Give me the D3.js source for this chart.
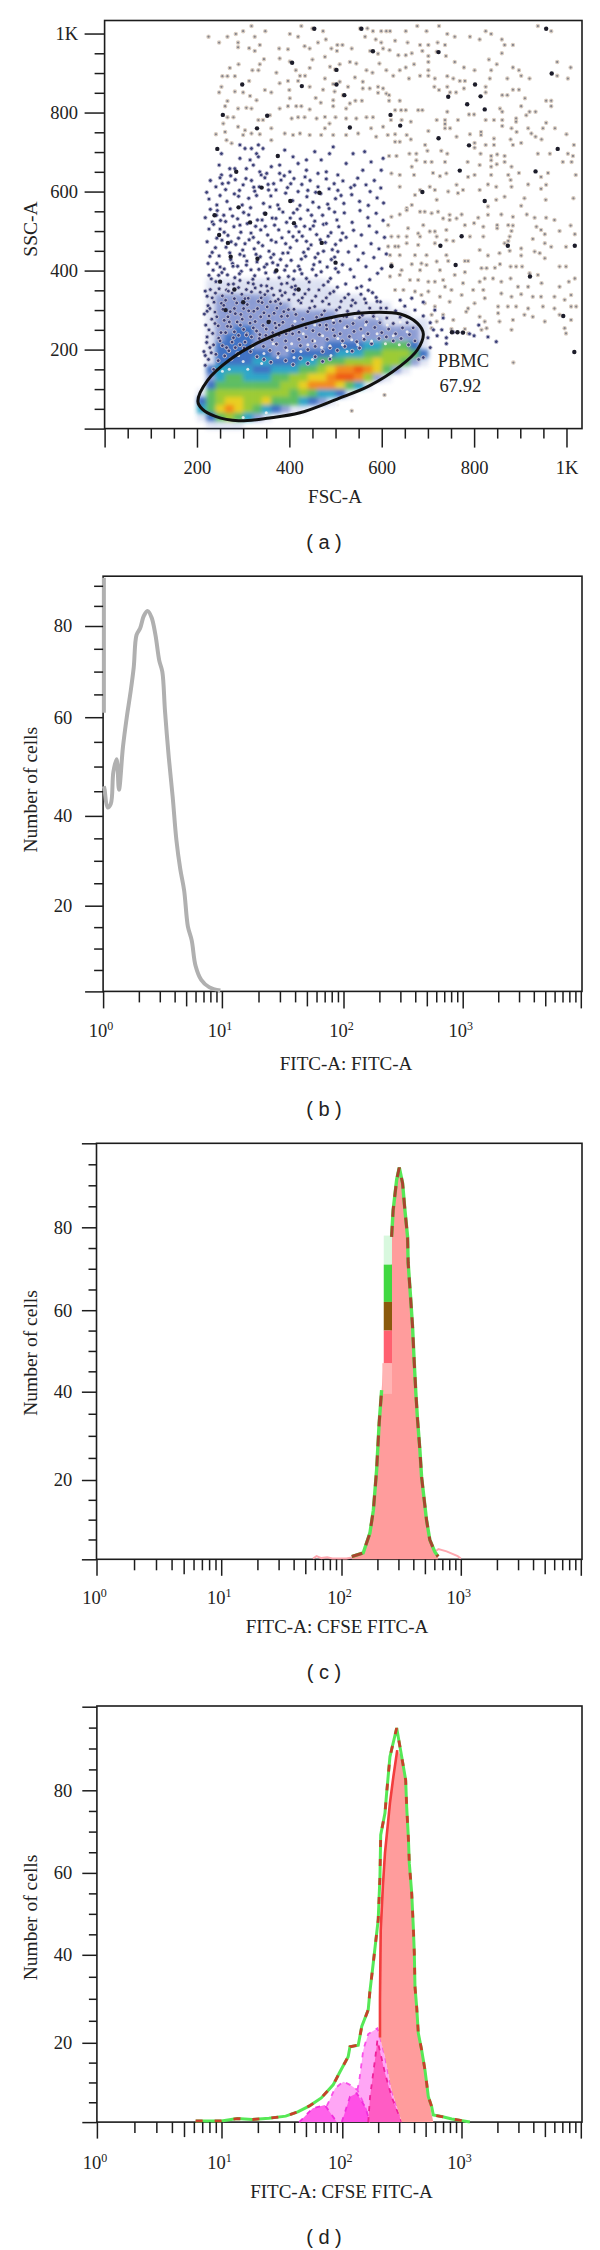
<!DOCTYPE html>
<html>
<head>
<meta charset="utf-8">
<script src="https://cdn.jsdelivr.net/npm/d3@7"></script>
<style>
  html, body { margin: 0; background: #fff; }
  svg { display: block; }
  text { font-family: "Liberation Serif", serif; fill: #222; }
  .caption { font-family: "Liberation Sans", sans-serif; }
</style>
</head>
<body>
<svg id="chart" width="600" height="2250"></svg>
<script>
// ---- panel a: FSC-A / SSC-A dots as [fsc, ssc]
const lightDots = [[225,992],[248,977],[266,992],[284,999],[300,1006],[318,1019],[325,992],[348,1006],[289,977],[289,965],[313,963],[325,956],[336,971],[378,962],[397,960],[379,937],[401,999],[419,992],[426,1019],[450,1013],[473,1006],[462,977],[479,985],[433,968],[444,962],[401,929],[345,935],[336,922],[290,922],[271,913],[320,907],[333,907],[372,901],[414,907],[423,893],[434,893],[444,913],[450,934],[477,941],[491,962],[504,971],[515,971],[503,956],[535,962],[553,1013],[569,1013],[564,992],[581,1006],[599,1006],[610,1006],[587,985],[599,977],[603,962],[575,956],[592,949],[617,958],[531,928],[545,924],[509,922],[488,916],[499,909],[477,886],[495,872],[509,878],[542,889],[567,907],[580,901],[595,924],[610,907],
[255,892],[266,892],[282,892],[313,880],[253,865],[248,851],[282,853],[300,851],[347,857],[361,851],[315,842],[329,831],[379,874],[397,880],[400,857],[401,836],[419,880],[444,865],[473,858],[498,853],[457,837],[468,825],[495,831],[495,816],[516,844],[527,865],[559,878],[559,861],[574,861],[592,865],[603,861],[592,850],[610,848],[543,830],[557,830],[531,823],[523,810],[261,816],[266,829],[289,810],[307,812],[318,810],[358,793],[379,810],[397,816],[415,816],[426,816],[444,808],
[266,788],[279,788],[257,772],[289,764],[304,755],[333,781],[343,781],[361,760],[405,785],[419,788],[433,788],[459,785],[477,789],[487,772],[500,788],[523,785],[545,785],[567,788],[581,788],[577,760],[603,764],[241,745],[261,751],[264,730],[275,722],[300,743],[318,747],[336,745],[361,730],[390,747],[408,743],[423,747],[444,743],[469,743],[477,760],[495,743],[523,743],[549,747],[588,739],[613,743],
[618,1006],[652,1006],[677,1019],[697,1006],[724,1019],[629,982],[656,977],[683,971],[701,971],[721,977],[737,971],[742,999],[758,992],[791,992],[825,1006],[837,999],[812,985],[860,985],[884,971],[866,971],[938,1019],[967,1006],[636,945],[652,945],[665,950],[688,956],[701,943],[739,943],[719,954],[832,934],[860,950],[849,922],[701,928],[670,922],[758,928],[778,914],[801,907],[837,907],[884,914],[897,907],[980,928],[1009,914],[980,893],[1003,886],[902,893],[920,886],[872,886],[834,886],[639,907],[652,914],[701,907],[701,893],[683,893],[659,886],[625,893],[715,886],[742,892],[755,886],[769,880],[780,880],[778,861],[825,865],[825,851],[742,865],[714,865],[724,857],[748,851],[761,851],[884,858],[897,858],[861,844],[872,844],[910,836],[956,830],[967,830],[967,816],[902,816],[920,802],[933,802],[856,810],[861,802],[800,795],[789,795],[742,802],[688,806],[679,806],[639,830],[616,844],[616,830],[652,806],[642,806],[629,806],[620,781],[643,781],[663,777],[719,781],[737,781],[737,771],[765,781],[825,781],[843,781],[861,781],[861,766],[891,785],[891,777],[913,793],[956,774],[949,760],[975,760],[1000,745],[881,760],[892,751],[917,760],[924,747],[933,739],[946,732],[737,760],[748,760],[815,751],[815,743],[791,745],[762,739],[701,753],[629,745],[654,743],[629,726],[639,726],[663,732],[1016,718],[1003,696],[1014,690],[992,675],[1011,675],[964,696],[938,696],[902,723],[879,732],[884,718],[843,734],[843,718],[825,718],[801,723],[801,711],[694,718],[699,703],[729,703],[742,696],[814,696],[837,690],[837,679],[850,694],[866,690],[866,675],[849,669],[881,663],[616,690],[632,690],[660,696],[675,696],[675,679],[665,663],[694,675],[708,675],[737,675],[786,675],[812,667],[837,663],[837,642],[874,642],[897,647],[945,637],[960,647],[1020,642],[639,642],[621,646],[670,642],[711,647],[726,639],[740,646],[787,637],[801,642],
[639,612],[683,604],[672,591],[665,566],[654,558],[704,612],[715,604],[719,579],[744,600],[762,617],[776,604],[765,596],[812,604],[830,618],[848,612],[881,612],[879,629],[917,618],[945,607],[956,617],[955,579],[909,583],[902,564],[866,587],[848,579],[830,562],[1015,583],[621,536],[639,542],[654,553],[683,549],[693,549],[708,545],[722,549],[733,532],[747,541],[762,532],[773,542],[747,528],[809,534],[830,541],[859,542],[884,536],[914,542],[931,534],[956,534],[974,528],[780,515],[800,520],[820,511],[850,515],[850,507],[874,515],[884,514],[935,511],[945,503],[985,500],[1009,514],[1018,492],[953,492],[881,500],[614,515],[657,507],[679,494],[683,486],[704,499],[715,499],[740,503],[690,515],[621,486],[636,486],[654,486],[719,486],[791,486],[820,486],[877,486],[874,475],[927,480],[953,469],[967,460],[999,460],[614,461],[629,461],[654,469],[679,465],[715,469],[740,477],[755,475],[866,469],[902,456],[931,448],[942,444],[618,439],[636,461],[639,439],[672,439],[697,439],[740,439],[780,424],[787,424],[812,452],[830,438],[855,444],[877,450],[902,438],[953,431],[665,416],[686,418],[719,423],[744,424],[845,407],[856,416],[879,410],[891,410],[904,410],[985,410],[999,410],[621,416],[643,401],[639,389],[683,401],[697,414],[726,401],[758,389],[780,396],[816,406],[827,406],[823,380],[841,380],[920,393],[938,389],[618,385],[661,376],[679,376],[701,372],[715,372],[733,376],[737,359],[776,368],[812,372],[859,372],[879,380],[895,359],[917,359],[946,368],[985,359],[1005,372],[1018,380],[629,351],[647,351],[672,347],[686,338],[701,347],[726,334],[751,351],[773,338],[798,351],[820,351],[859,342],[881,334],[902,340],[927,334],[945,334],[974,334],[996,326],[1010,338],[693,317],[715,309],[747,321],[787,304],[801,317],[823,330],[852,309],[873,309],[891,309],[917,304],[949,309],[974,304],[1010,309],[1021,309],[708,288],[733,288],[783,296],[812,283],[852,292],[884,275],[909,288],[927,283],[953,271],[985,288],[1010,275],[719,271],[755,275],[823,271],[855,271],[708,254],[751,252],[780,252],[816,250],[827,254],[881,250],[996,254],[999,241],[787,241],[885,167],[606,85],[535,45]];

const blueDots = [[293,718],[304,709],[318,709],[333,718],[343,709],[329,696],[333,688],[293,684],[315,680],[271,658],[282,658],[248,667],[253,642],[307,658],[322,667],[336,650],[361,663],[379,667],[390,705],[408,688],[419,671],[437,680],[455,701],[469,680],[495,713],[487,696],[523,671],[505,642],[538,696],[563,701],[577,675],[603,684],[559,654],[599,654],[401,650],[437,654],[462,646],[480,650],[351,646],[379,646],[253,696],
[250,635],[268,622],[283,630],[300,617],[318,628],[335,612],[347,635],[366,620],[382,629],[396,610],[410,633],[427,618],[445,628],[462,612],[480,632],[497,620],[516,627],[533,610],[548,634],[566,617],[584,628],[598,609],[262,605],[292,603],[325,601],[355,604],[440,603],[505,603],[575,600],
[221,598],[226,581],[250,590],[265,575],[281,594],[298,566],[312,583],[329,590],[344,570],[360,589],[375,566],[392,596],[407,577],[423,565],[438,587],[451,573],[468,595],[483,568],[500,582],[518,570],[535,592],[552,575],[571,565],[590,584],[604,571],[243,566],
[218,534],[244,552],[258,540],[272,556],[288,531],[301,547],[316,559],[331,528],[346,545],[363,533],[378,556],[394,522],[409,546],[424,531],[440,553],[455,525],[472,540],[486,557],[503,528],[519,546],[536,522],[553,552],[570,534],[588,545],[603,527],[233,523],[262,524],
[236,517],[250,505],[267,489],[280,511],[295,497],[309,519],[322,484],[338,503],[353,490],[368,515],[384,483],[399,498],[414,512],[428,487],[445,505],[459,491],[474,517],[490,496],[507,511],[523,484],[539,502],[556,490],[573,513],[589,497],[606,484],
[222,473],[240,458],[254,477],[271,445],[284,466],[299,452],[313,478],[328,441],[342,463],[356,449],[371,472],[386,444],[402,458],[416,476],[431,446],[447,465],[462,443],[478,471],[493,453],[511,477],[528,447],[544,462],[560,444],[577,468],[594,455],[610,442],
[228,436],[243,418],[259,404],[273,428],[288,411],[302,437],[317,402],[330,422],[346,409],[360,433],[375,414],[390,401],[404,426],[420,411],[435,436],[450,403],[466,422],[482,409],[498,434],[515,415],[532,403],[549,427],[566,410],[583,433],[600,405],
[226,388],[241,372],[254,395],[268,365],[282,382],[296,398],[311,369],[325,387],[339,362],[354,379],[369,396],[383,366],[398,385],[413,361],[427,392],[443,371],[458,388],[474,363],[489,380],[506,396],[522,366],[540,384],[556,360],[574,377],[591,393],
[218,348],[233,331],[248,354],[262,325],[276,343],[290,357],[304,329],[318,346],[333,322],[347,339],[362,355],[376,327],[391,344],[405,358],[420,324],[434,341],[449,323],[464,351],[480,331],[496,347],[512,322],[528,340],[546,356],[563,328],[580,344],[597,321],
[224,311],[239,295],[253,317],[267,283],[281,304],[295,289],[309,314],[323,297],[338,283],[352,308],[367,292],[381,316],[396,285],[410,302],[425,318],[440,296],[455,309],[470,288],[486,315],[502,300],[518,284],[534,311],[550,296],[566,318],[582,291],[598,305],
[231,379],[247,388],[264,351],[279,366],[293,375],[307,352],[322,366],[337,345],[351,361],[366,338],[380,349],[395,368],[410,340],
[222,297],[237,320],[256,302],[272,296],[286,318],[301,304],[316,283],[331,304],[345,293],[359,321],[373,305],[388,296],
[219,262],[232,277],[246,260],[259,274],[273,258],[287,270],[301,251],[315,267],[329,247],[343,261],[357,272],[371,255],[386,269],[400,248],
[221,218],[234,241],[247,229],[262,243],[276,219],[290,236],[304,219],[318,232],[215,195],[228,205],[241,188],[255,210],[269,197],[283,205],[218,160],[225,175],[236,150],
[229,628],[241,612],[255,620],[273,640],[290,588],[306,633],[323,611],[339,642],[354,618],[371,604],[389,640],[403,620],[419,600],[434,637],[457,598],[486,607],[512,590],[541,616],
[242,540],[229,555],[251,527],[277,538],[293,515],[312,541],[327,512],[341,528],[358,561],[371,532],[386,548],[402,533],[417,555],[433,512],[448,540],[464,560],[480,519],[498,548],
[226,505],[243,482],[259,497],[274,473],[290,482],[304,468],[317,495],[333,471],[348,512],[361,477],[377,503],[392,468],[408,486],[421,498],[437,474],[452,513],[467,478],[484,487],[500,466],[515,495],
[233,446],[248,437],[263,459],[277,418],[293,441],[308,424],[324,455],[337,435],[351,416],[366,441],[381,428],[397,445],[411,399],[426,429],[441,455],[456,433],[474,449],[491,428],[505,448],
[224,418],[235,401],[250,409],[266,389],[278,411],[292,392],[307,414],[321,378],[334,403],[349,394],[364,420],[378,382],[394,412],[409,378],[423,403],[437,380],[453,415],[469,397],[484,372],[500,405],
[222,335],[229,352],[240,343],[255,336],[268,348],[281,329],[297,340],[311,330],[326,356],[339,331],[353,348],[370,322],[384,337],[399,326],[413,352],[428,331],[442,352],[457,335],[472,322],[488,342],[504,358],[520,331],[537,325],[555,340],[571,350],[588,332],
[216,290],[228,304],[243,283],[258,312],[270,270],[283,291],[298,277],[312,298],[326,271],[341,319],[356,285],[369,267],[383,284],[398,301],[414,289],[429,277],[444,305],[459,282],[476,298],[492,280],[509,307],[526,297],[543,318],[558,287],[574,305],[590,322],
[226,250],[239,266],[252,243],[266,259],[281,245],[294,262],[308,240],[322,255],[336,238],[350,252],[364,243],[378,262],[393,240],[407,260],[421,244],[436,255],[451,248],[466,262],[481,252],[496,268],
[222,232],[236,212],[250,222],[264,205],[279,230],[293,212],[307,237],[321,210],[335,228],[349,236],[363,225],[378,236],[392,222],[407,240],[421,226],[436,232],[451,222],
[218,185],[231,192],[246,172],[260,184],[274,176],[288,190],[302,204],[316,195],[330,182],[344,208],[358,198],[372,214],
[610,305],[630,298],[650,310],[672,300],[690,285],[705,268],[712,250],[640,325],[665,330],[690,320],[715,300],[733,280],
[700,230],[705,205],[690,180],[680,175],[720,235],[730,250],[740,230],[755,244],[775,243],[790,240],[810,262],[800,235],[830,232],[848,220],[740,215],
[510,272],[524,283],[538,266],[552,281],[567,270],[582,284],[596,268],[611,280],[625,266],[640,282],[655,268],[668,255],[480,262],[495,250],[510,240],[525,258],[540,246],[555,252],[570,240],[585,256],[600,243],[615,252],[630,240],[645,255],[660,238],[672,222],[465,238],[482,226],[498,235],[515,222],[530,233],[546,220],[562,226],[578,215],[594,228],[610,232],[625,222],[642,228],[658,212],[392,205],[408,196],[424,210],[440,200],[456,208],[472,195],[488,205],[504,198],[520,208],[536,196],[552,204],[345,175],[360,168],[376,190],[392,172],[408,162],[424,178],[440,165],[456,182],[472,170],[488,176]];

const darkDots = [[454,1012],[556,1012],[956,1012],[723,953],[581,955],[406,926],[502,908],[968,899],[298,871],[502,871],[802,871],[427,867],[519,844],[744,840],[814,841],[823,808],[785,821],[619,794],[256,794],[352,792],[640,767],[531,762],[723,735],[789,717],[981,708],[244,708],[769,653],[933,651],[688,599],[823,576],[465,597],[402,576],[315,522],[348,544],[773,487],[727,463],[873,463],[248,490],[273,435],[621,411],[760,414],[1018,463],[921,385],[993,285],[1017,194],[752,244],[764,244],[776,243],[281,352],[331,430],[267,470],[372,400],[250,372],[300,320],[355,270],[262,300],[420,352],[500,420],[290,560],[340,610],[410,520],[285,650],[375,690],[330,760],[470,470],[238,540]];

// pale specks left inside the upper half of the gate
const speckDots = [[385,245],[412,272],[430,240],[455,262],[472,235],[495,275],[520,255],[542,280],[565,262],[590,278],[612,262],[640,270],[405,215],[440,212],[470,205],[505,228],[535,225],[560,235],[590,240],[625,235],[655,245],[320,205],[345,190],[375,180],[300,170],[270,150],[410,180],[450,175],[490,185],[525,195],[340,165],[365,215],[395,198],[425,195],[455,222],[488,210],[515,212],[548,212],[578,222],[608,215],[638,212],[290,185],[310,150],[255,145],[430,45],[505,60],[350,40],[300,28]];

// density of the crowded part: one row per 20 SSC (highest first), one digit per 20 FSC from 200
const densityRows = [
  "01111111111111000000000000",
  "01111111111111100000000000",
  "01222222111111111100000000",
  "01222222221111111111100000",
  "01222222222222211111111000",
  "01222222222222222222111110",
  "01223322222222222222222210",
  "01233322222222222222222210",
  "01333322222222333344555310",
  "01333333223333344455666530",
  "01333344333445556667665210",
  "03444433444556788987521000",
  "02455444556677899862100000",
  "03555555566788875410000000",
  "15666666665654431000000000",
  "35677667555432100000000000",
  "45787654321100000000000000",
  "13565421000000000000000000",
  "01111000000000000000000000"
];
const densityTop = 360;
const densityColors = [null, "rgba(70,90,180,.16)", "rgba(60,85,180,.55)", "#3f72c4", "#2ea6c8", "#5dbd62", "#9ccb35", "#e8cf22", "#f38a1c", "#ef5a18"];

// gate outline as [fsc, ssc]
const gate = [[202,69],[223,122],[273,176],[340,222],[431,263],[506,285],[573,294],[640,290],[677,267],[690,240],[677,199],[640,158],[573,108],[506,76],[423,40],[357,27],[290,20],[240,31],[211,50]];

// ---- panel b
const bEdge = [[1.015,92],[1.015,61]];
const bCurve = [[1.015,46],[1.03,45.3],[1.09,41.7],[1.16,42.4],[1.22,48.9],[1.3,51.5],[1.36,45.3],[1.47,54],[1.58,59.9],[1.7,65.4],[1.81,70.9],[1.91,78],[2.05,79.5],[2.21,82.6],[2.38,83.7],[2.56,82.1],[2.76,78],[2.97,72.4],[3.15,70],[3.32,61.3],[3.57,51.9],[3.85,43.9],[4.14,34.6],[4.46,28.2],[4.81,23.4],[5.17,15.2],[5.57,11.9],[6,6],[6.7,2.7],[7.8,1],[9.7,.2]];

// ---- panel c
const cLeft = [[122,.7],[152,1.6],[173,6.6],[185,12.4],[197,22.3],[207,33],[217,40.4]];
const cRight = [[263,77.7],[271,84.1],[290,91.3],[305,94.2],[325,90.5],[340,84.1],[358,77.7],[362,71.4],[379,63.3],[394,56],[406,47.8],[420,39.7],[434,33.6],[454,26.8],[469,20.7],[490,15.8],[516,9.9],[550,4.9],[605,1.9],[645,.7]];
const cFillLeft = [[225,47],[255,47]];
const cTailLow = [[58,.2],[62,.8],[68,.3],[76,.5],[84,.2],[110,.2],[125,.5]];
const cTailHigh = [[605,1.9],[650,2.6],[760,2],[942,.8],[1000,.2]];
// bands on the left flank: [fitc from, fitc to, count from, count to]
const cBands = [[226,265,71,78,"#d8f8de"],[226,265,62,71,"#3fd83f"],[226,265,55,62,"#8a5a10"],[226,265,47,55,"#ff6070"],[220,265,39.5,47,"#ffb4b4"]];

// ---- panel d
const dTotal = [[6.2,.3],[10,.3],[13.5,.9],[18,.65],[24.7,1],[34,1.5],[42.8,2.6],[53.6,4.1],[67,6.1],[84,9.4],[95.7,12.7],[112,16.5],[116,19],[136,19.4],[145.6,23.7],[165,27.5],[170,31.4],[182,38.2],[200,48.5],[207,59.1],[210,69.2],[228,74.5],[236,79.6],[251,88],[265,90.9],[286,94.9],[315,88],[340,82.5],[347,75.9],[358,68.8],[365,62.3],[382,55.1],[394,46.9],[402,40.3],[407,32.8],[421,28],[434,22.2],[463,18.2],[494,13.1],[527,6.4],[562,3.9],[580,1.8],[682,1.4],[828,.8],[1175,0]];
const dMain = [[207,21.2],[207,29.7],[210,46],[219,56.8],[228,64.8],[251,76.9],[268,83.2],[289,89.6],[315,88],[340,82.5],[347,75.9],[358,68.8],[365,62.3],[382,55.1],[394,46.9],[402,40.3],[407,32.8],[421,28],[434,22.2],[463,18.2],[494,13.1],[527,6.4],[562,2],[580,0]];
const dMainFoot = [[315,0],[259,8.1],[228,16.5],[207,21.2]];
const dGenSmall = [[44,0],[57,3.5],[71.6,4.3],[90,0]];
const dGenA = [[44,0],[57,3],[74,3.9],[87,8.5],[102,10.2],[116,9.4],[134,8.1],[155,3.9],[171,0]];
const dGenB = [[134,8.1],[139,10.6],[150,18.2],[165,22],[197,23.3],[207,21.4],[228,16.5],[259,8.1],[315,0]];
const dGenC = [[99,0],[116,6.4],[132,7.3],[155,3.9],[171,0]];
const dGenD = [[165,0],[171,6.4],[188,15.7],[197,20.6],[228,12.4],[259,6.4],[315,0]];

// ---- ticks
const linTicks = d3.range(0, 1001, 50);
const linLabels = {200: "200", 400: "400", 600: "600", 800: "800", 1000: "1K"};
const logDecades = [1, 10, 100, 1000];
const logTicks = logDecades.flatMap(d => [1,2,3,4,5,6,7,8,9].map(m => d * m)).concat([10000]);
const countTicks = d3.range(0, 101, 5);
const countLabels = [20, 40, 60, 80];

const svg = d3.select("#chart");

const defs = svg.append("defs");
defs.append("filter").attr("id", "soft").attr("x", "-5%").attr("y", "-5%").attr("width", "110%").attr("height", "110%")
  .append("feGaussianBlur").attr("stdDeviation", 0.7);
defs.append("filter").attr("id", "softer").attr("x", "-5%").attr("y", "-5%").attr("width", "110%").attr("height", "110%")
  .append("feGaussianBlur").attr("stdDeviation", 2.2);

function frame(box, id) {
  defs.append("clipPath").attr("id", id).append("rect")
    .attr("x", box.left).attr("y", box.top).attr("width", box.right - box.left).attr("height", box.bottom - box.top);
  svg.append("rect")
    .attr("x", box.left).attr("y", box.top).attr("width", box.right - box.left).attr("height", box.bottom - box.top)
    .attr("fill", "none").attr("stroke", "#1c1c1c").attr("stroke-width", 1.6);
}

function titles(p) {
  svg.append("text").attr("x", p.xTitle[0]).attr("y", p.xTitle[1] + 6).attr("text-anchor", "middle")
    .attr("font-size", 19).text(p.xName);
  svg.append("text").attr("transform", `translate(${p.yTitle[0] + 6},${p.yTitle[1]}) rotate(-90)`)
    .attr("text-anchor", "middle").attr("font-size", 19.5).text(p.yName);
  svg.append("text").attr("class", "caption").attr("x", 324).attr("y", p.captionY + 7).attr("text-anchor", "middle")
    .attr("font-size", 20).text(p.caption);
}

function styleAxis(g) {
  g.select(".domain").remove();
  g.selectAll("line").attr("stroke", "#1c1c1c").attr("stroke-width", 1.5);
  g.selectAll("text").attr("font-size", 18.5).attr("font-family", "Liberation Serif").attr("fill", "#222");
}

function logAxis(x, box, labelY, major, five, minor) {
  const g = svg.append("g").attr("transform", `translate(0,${box.bottom})`)
    .call(d3.axisBottom(x).tickValues(logTicks).tickSize(minor).tickFormat(""));
  styleAxis(g);
  g.selectAll(".tick line").attr("y2", d => {
    const lead = d / Math.pow(10, Math.floor(Math.log10(d) + 1e-9));
    return Math.abs(lead - 1) < 1e-6 ? major : Math.abs(lead - 5) < 1e-6 ? five : minor;
  });
  logDecades.forEach((d, i) => {
    const t = svg.append("text").attr("x", x(d) - 2).attr("y", labelY + 7).attr("text-anchor", "middle").attr("font-size", 18.5);
    t.append("tspan").text("10");
    t.append("tspan").attr("dy", -7).attr("font-size", 12).text(i);
  });
}

function countAxis(y, box, major, minor, labelX) {
  const g = svg.append("g").attr("transform", `translate(${box.left},0)`)
    .call(d3.axisLeft(y).tickValues(box.countTicks).tickSize(minor).tickPadding(box.left - labelX - minor)
      .tickFormat(d => countLabels.includes(d) ? d : ""));
  styleAxis(g);
  g.selectAll(".tick line").attr("x2", d => (d % 20 === 0 ? -major : -minor));
}

// ---- panel a
(function () {
  const box = {left: 104.6, right: 582, top: 20.5, bottom: 428.6};
  const x = d3.scaleLinear().domain([0, 1033.6]).range([box.left, box.right]);
  const y = d3.scaleLinear().domain([0, 1033]).range([box.bottom, box.top]);
  frame(box, "clipA");

  const dens = svg.append("g").attr("filter", "url(#softer)");
  densityRows.forEach((row, r) => {
    const ssc = densityTop - r * 20;
    dens.selectAll(null).data(row.split("").map((c, i) => ({fsc: 200 + i * 20, level: +c})).filter(d => d.level > 0))
      .enter().append("rect")
      .attr("x", d => x(d.fsc)).attr("width", d => x(d.fsc + 20) - x(d.fsc) + .5)
      .attr("y", y(ssc + 20)).attr("height", y(ssc) - y(ssc + 20) + .5)
      .attr("fill", d => densityColors[d.level]);
  });

  const dots = svg.append("g").attr("clip-path", "url(#clipA)").append("g").attr("filter", "url(#soft)");
  dots.selectAll(".l").data(lightDots).enter().append("circle")
    .attr("cx", d => x(d[0])).attr("cy", d => y(d[1])).attr("r", 1.7)
    .attr("fill", "#85858e").attr("stroke", "#dccfc2").attr("stroke-width", 1.1);
  dots.selectAll(".b").data(blueDots).enter().append("circle")
    .attr("cx", d => x(d[0])).attr("cy", d => y(d[1])).attr("r", 1.9)
    .attr("fill", "#3a3f78").attr("stroke", "#c8c6d6").attr("stroke-width", .9);
  dots.selectAll(".d").data(darkDots).enter().append("circle")
    .attr("cx", d => x(d[0])).attr("cy", d => y(d[1])).attr("r", 2.2).attr("fill", "#1f1f2a");
  dots.selectAll(".s").data(speckDots).enter().append("circle")
    .attr("cx", d => x(d[0])).attr("cy", d => y(d[1])).attr("r", 1.5).attr("fill", "#f6f4f2").attr("opacity", .85);

  svg.append("path").attr("d", d3.line().x(d => x(d[0])).y(d => y(d[1])).curve(d3.curveCatmullRomClosed)(gate))
    .attr("fill", "none").attr("stroke", "#111").attr("stroke-width", 3);

  const gx = svg.append("g").attr("transform", `translate(0,${box.bottom})`)
    .call(d3.axisBottom(x).tickValues(linTicks).tickSize(10).tickPadding(0).tickFormat(d => linLabels[d] || ""));
  styleAxis(gx);
  gx.selectAll(".tick line").attr("y2", d => (d % 200 === 0 ? 19 : 10));
  gx.selectAll(".tick text").attr("y", 45.4).attr("dy", 0);

  const gy = svg.append("g").attr("transform", `translate(${box.left},0)`)
    .call(d3.axisLeft(y).tickValues(linTicks).tickSize(10).tickPadding(16.6).tickFormat(d => linLabels[d] || ""));
  styleAxis(gy);
  gy.selectAll(".tick line").attr("x2", d => (d % 200 === 0 ? -20 : -10));

  svg.append("text").attr("x", 437.7).attr("y", 367).attr("font-size", 18.5).text("PBMC");
  svg.append("text").attr("x", 439.6).attr("y", 392).attr("font-size", 18.5).text("67.92");
  titles({xTitle: [335, 497], yTitle: [30.8, 229], xName: "FSC-A", yName: "SSC-A", caption: "( a )", captionY: 542});
})();

// ---- panel b
(function () {
  const box = {left: 103.1, right: 582, top: 576.2, bottom: 991.4, countTicks: countTicks.filter(d => d <= 90)};
  const x = d3.scaleLog().domain([1, 10, 100, 1000, 10000]).range([103.1, 221.9, 343.5, 462.7, 580.8]);
  const y = d3.scaleLinear().domain([0, 20, 40, 60, 80, 90, 92.4]).range([box.bottom, 905.7, 815.9, 717.2, 626, 585.8, box.top]);
  frame(box, "clipB");
  const line = d3.line().x(d => x(d[0])).y(d => y(d[1])).curve(d3.curveCatmullRom);
  const marks = svg.append("g").attr("filter", "url(#soft)");
  [bEdge, bCurve].forEach(s => {
    marks.append("path").attr("d", line(s)).attr("fill", "none").attr("stroke", "#b0b0b0").attr("stroke-width", 4);
  });
  logAxis(x, box, 1030, 17, 15, 11);
  countAxis(y, box, 18, 9, 72.3);
  titles({xTitle: [346, 1063.6], yTitle: [30.8, 789.7], xName: "FITC-A: FITC-A", yName: "Number of cells", caption: "( b )", captionY: 1109});
})();

// ---- panel c
(function () {
  const box = {left: 96.5, right: 582, top: 1143.3, bottom: 1559.3, countTicks};
  const x = d3.scaleLog().domain([1, 10, 100, 1000, 10000]).range([96.5, 221.2, 341.5, 460.8, 580.8]);
  const y = d3.scaleLinear().domain([0, 20, 40, 60, 80, 100]).range([box.bottom, 1480, 1391.7, 1310.2, 1227.3, box.top]);
  frame(box, "clipC");
  const line = d3.line().x(d => x(d[0])).y(d => y(d[1]));
  const area = d3.area().x(d => x(d[0])).y0(box.bottom).y1(d => y(d[1]));
  const marks = svg.append("g").attr("filter", "url(#soft)");
  marks.append("path").attr("d", area(cLeft.concat(cFillLeft, cRight))).attr("fill", "#ff9c9c");
  marks.selectAll(".band").data(cBands).enter().append("rect")
    .attr("x", d => x(d[0])).attr("width", d => x(d[1]) - x(d[0]))
    .attr("y", d => y(d[3])).attr("height", d => y(d[2]) - y(d[3]))
    .attr("fill", d => d[4]);
  [cTailLow, cTailHigh].forEach(s => {
    marks.append("path").attr("d", line(s)).attr("fill", "none").attr("stroke", "#ffa8b0").attr("stroke-width", 2);
  });
  [cLeft, cRight].forEach(s => {
    marks.append("path").attr("d", line(s)).attr("fill", "none").attr("stroke", "#57e857").attr("stroke-width", 3.4);
    marks.append("path").attr("d", line(s)).attr("fill", "none").attr("stroke", "#a8452f").attr("stroke-width", 3).attr("stroke-dasharray", "11 9");
  });
  logAxis(x, box, 1597, 16.5, 15, 11);
  countAxis(y, box, 14.6, 8, 72.3);
  titles({xTitle: [337, 1627], yTitle: [30.8, 1353], xName: "FITC-A: CFSE FITC-A", yName: "Number of cells", caption: "( c )", captionY: 1672});
})();

// ---- panel d
(function () {
  const box = {left: 96.9, right: 582, top: 1706, bottom: 2122.1, countTicks};
  const x = d3.scaleLog().domain([1, 10, 100, 1000, 10000]).range([96.9, 221.5, 342.3, 461.5, 580.8]);
  const y = d3.scaleLinear().domain([0, 20, 40, 60, 80, 100]).range([box.bottom, 2042.8, 1954.8, 1872.9, 1790.3, 1706.7]);
  frame(box, "clipD");
  const line = d3.line().x(d => x(d[0])).y(d => y(d[1]));
  const area = d3.area().x(d => x(d[0])).y0(box.bottom).y1(d => y(d[1]));
  const marks = svg.append("g").attr("filter", "url(#soft)");
  const hump = (s, fill, edge) => {
    marks.append("path").attr("d", area(s)).attr("fill", fill);
    marks.append("path").attr("d", line(s)).attr("fill", "none").attr("stroke", edge).attr("stroke-width", 1.8).attr("stroke-dasharray", "5 6");
  };
  hump(dGenB, "#ffa6f5", "#f84fe8");
  hump(dGenA, "#ffa6f5", "#f84fe8");
  hump(dGenSmall, "#ff62ea", "#f02fdc");
  hump(dGenC, "#ff4fe6", "#f02fdc");
  hump(dGenD, "#ff5cc4", "#f0209c");
  marks.append("path").attr("d", line(dMain.concat(dMainFoot))).attr("fill", "#ff9c9c");
  marks.append("path").attr("d", line(dTotal)).attr("fill", "none").attr("stroke", "#57e857").attr("stroke-width", 3);
  marks.append("path").attr("d", line(dTotal)).attr("fill", "none").attr("stroke", "#c8402c").attr("stroke-width", 2.8).attr("stroke-dasharray", "7 12");
  marks.append("path").attr("d", line(dMain.slice(0, 8))).attr("fill", "none").attr("stroke", "#f23c3c").attr("stroke-width", 2.6);
  logAxis(x, box, 2161.5, 16.5, 15, 11);
  countAxis(y, box, 14.6, 8, 72.3);
  titles({xTitle: [341.5, 2191.5], yTitle: [30.8, 1917.5], xName: "FITC-A: CFSE FITC-A", yName: "Number of cells", caption: "( d )", captionY: 2237});
})();
</script>
</body>
</html>
